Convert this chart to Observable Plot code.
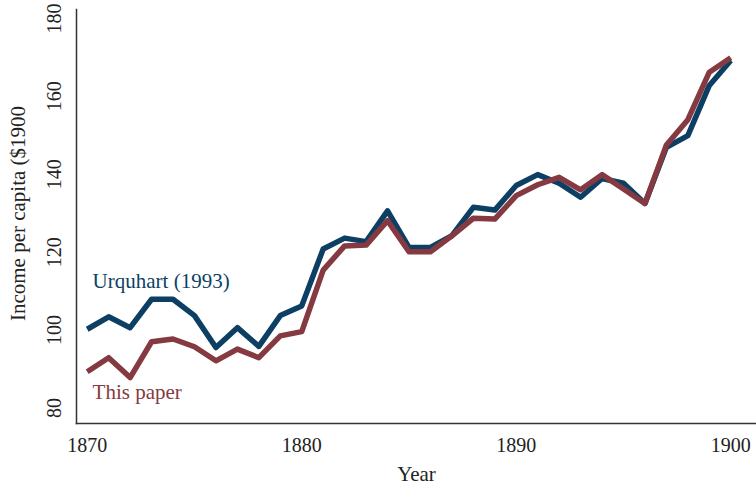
<!DOCTYPE html>
<html>
<head>
<meta charset="utf-8">
<script src="https://cdn.jsdelivr.net/npm/d3@7"></script>
<script src="https://cdn.jsdelivr.net/npm/@observablehq/plot@0.6"></script>
<style>
  html, body { margin: 0; padding: 0; background: #fff; }
  #chart svg { display: block; }
</style>
</head>
<body>
<div id="chart"></div>
<script>
const years = d3.range(1870, 1901);
const urquhart = [100.2, 103.4, 100.6, 107.9, 107.9, 103.7, 95.5, 100.6, 95.8, 103.7,
  106.2, 120.8, 123.6, 122.7, 130.6, 121.2, 121.2, 124.2, 131.5, 130.8,
  137.1, 139.9, 137.7, 134.1, 138.9, 137.7, 132.5, 146.9, 149.9, 162.8, 169.2];
const thisPaper = [89.3, 92.9, 87.8, 97.0, 97.7, 95.7, 92.1, 95.1, 92.9, 98.5,
  99.6, 115.4, 121.6, 121.8, 128.1, 120.1, 120.1, 124.2, 128.7, 128.5,
  134.5, 137.3, 139.2, 136.0, 139.9, 136.2, 132.5, 147.5, 154.0, 166.2, 169.9];
const seriesNames = ["Urquhart (1993)", "This paper"];
const seriesColors = ["#0d3f64", "#843a40"];
const labelYears = [1870.25, 1870.25];
const labelValues = [110.8, 82.3];
const xTicks = [1870, 1880, 1890, 1900];
const yTicks = [80, 100, 120, 140, 160, 180];
const xTitle = "Year";
const yTitle = "Income per capita ($1900";

const rows = [];
years.forEach((yr, i) => {
  rows.push({year: yr, value: urquhart[i], series: seriesNames[0]});
});
years.forEach((yr, i) => {
  rows.push({year: yr, value: thisPaper[i], series: seriesNames[1]});
});
const labels = seriesNames.map((s, i) => ({series: s, year: labelYears[i], value: labelValues[i]}));

const font = "'Liberation Serif', 'DejaVu Serif', serif";

const chart = Plot.plot({
  width: 756,
  height: 487,
  marginLeft: 76,
  marginRight: 0,
  marginTop: 9,
  marginBottom: 64,
  style: {fontFamily: font, background: "#fff", color: "#222"},
  x: {domain: [1869.5, 1901.2], axis: null},
  y: {domain: [76, 182.3], axis: null},
  color: {domain: seriesNames, range: seriesColors},
  marks: [
    Plot.frame({anchor: "left", stroke: "#333", strokeWidth: 1.5}),
    Plot.frame({anchor: "bottom", stroke: "#333", strokeWidth: 1.5}),
    Plot.axisX({ticks: xTicks, tickSize: 0, tickPadding: 14, tickFormat: d3.format("d"), fontSize: 20, label: null, fill: "#222"}),
    Plot.text(yTicks, {y: d => d, text: d => String(d), frameAnchor: "left", dx: -22, rotate: -90, textAnchor: "middle", lineAnchor: "middle", fontSize: 20, fill: "#222"}),
    Plot.text([xTitle], {frameAnchor: "bottom", dy: 51, fontSize: 21, fill: "#222", lineAnchor: "middle", textAnchor: "middle", ariaLabel: "xtitle"}),
    Plot.text([yTitle], {frameAnchor: "left", dx: -58, dy: -3, rotate: -90, fontSize: 21, fill: "#222", lineAnchor: "middle", textAnchor: "middle", ariaLabel: "ytitle"}),
    Plot.line(rows, {x: "year", y: "value", z: "series", stroke: "series", strokeWidth: 5.5, strokeLinejoin: "round", strokeLinecap: "butt"}),
    Plot.text(labels, {x: "year", y: "value", text: "series", fill: "series", textAnchor: "start", lineAnchor: "bottom", fontSize: 21, ariaLabel: "serieslabels"})
  ]
});
d3.select(chart).selectAll('g[aria-label="serieslabels"] text').style("letter-spacing", "0.8px");
d3.select(chart).selectAll('g[aria-label="xtitle"] text').style("letter-spacing", "0.8px");
d3.select(chart).selectAll('g[aria-label="ytitle"] text').style("letter-spacing", "1.4px");
document.getElementById("chart").appendChild(chart);
</script>
</body>
</html>
